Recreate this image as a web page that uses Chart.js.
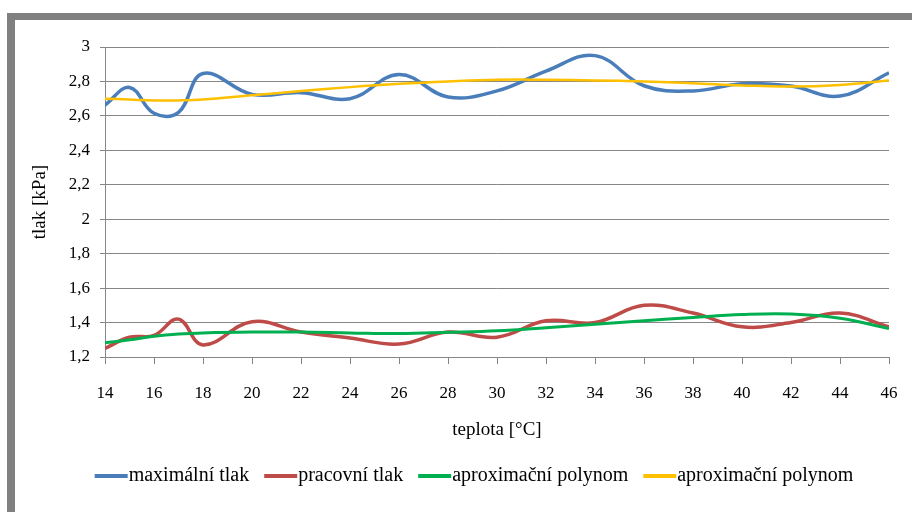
<!DOCTYPE html>
<html>
<head>
<meta charset="utf-8">
<script src="https://cdn.jsdelivr.net/npm/chart.js@4/dist/chart.umd.min.js"></script>
<style>
  body { margin: 0; background: #fff; }
  canvas { display: block; }
</style>
</head>
<body>
<canvas id="c" width="912" height="512"></canvas>
<script>
// data
const teploty = [14, 15, 16, 17, 18, 20, 22, 24, 26, 28, 30, 32, 34, 36, 38, 40, 42, 44, 46];
const maxTlak = [2.663, 2.765, 2.615, 2.62, 2.846, 2.725, 2.735, 2.70, 2.84, 2.71, 2.745, 2.86, 2.95, 2.775, 2.745, 2.786, 2.773, 2.715, 2.85];
const pracTlak = [1.25, 1.315, 1.325, 1.42, 1.27, 1.405, 1.345, 1.31, 1.275, 1.345, 1.315, 1.41, 1.40, 1.50, 1.455, 1.375, 1.40, 1.455, 1.375];
const polyPrac = [1.283, 1.30, 1.32, 1.333, 1.34, 1.345, 1.345, 1.34, 1.336, 1.343, 1.352, 1.37, 1.39, 1.41, 1.43, 1.447, 1.45, 1.425, 1.365];
const polyMax = [2.70, 2.695, 2.69, 2.69, 2.695, 2.72, 2.744, 2.767, 2.786, 2.80, 2.81, 2.81, 2.806, 2.80, 2.79, 2.777, 2.77, 2.78, 2.806];
const yTicks = [1.2, 1.4, 1.6, 1.8, 2, 2.2, 2.4, 2.6, 2.8, 3];

const pts = arr => arr.map((v, i) => ({ x: teploty[i], y: v }));
const serif = "'Liberation Serif', 'Times New Roman', serif";
const tickFont = { family: serif, size: 17 };
const titleFont = { family: serif, size: 19 };
const gray = "#868686";

// gray frame at top/left
const frame = {
  id: "frame",
  beforeDraw(chart) {
    const ctx = chart.ctx;
    ctx.save();
    ctx.fillStyle = "#808080";
    ctx.fillRect(7, 13, chart.width - 7, 7);
    ctx.fillRect(7, 13, 8, chart.height - 13);
    ctx.restore();
  }
};

// excel-like legend: short line then text right next to it
const lineLegend = {
  id: "lineLegend",
  afterDraw(chart) {
    const ctx = chart.ctx;
    const sets = chart.data.datasets;
    ctx.save();
    ctx.font = "20px " + serif;
    const widths = sets.map(d => 34 + ctx.measureText(d.label).width);
    const gap = 15;
    const total = widths.reduce((a, b) => a + b, 0) + gap * (sets.length - 1);
    let x = 474 - total / 2;
    const y = 476;
    sets.forEach((d, i) => {
      ctx.fillStyle = d.borderColor;
      ctx.fillRect(x, y - 2, 33, 4);
      ctx.fillStyle = "#000";
      ctx.textBaseline = "middle";
      ctx.fillText(d.label, x + 34, y);
      x += widths[i] + gap;
    });
    ctx.restore();
  }
};

function serie(label, data, color, width, order) {
  return {
    label: label,
    data: pts(data),
    borderColor: color,
    backgroundColor: color,
    borderWidth: width,
    pointRadius: 0,
    tension: 0.4,
    fill: false,
    order: order
  };
}

new Chart(document.getElementById("c"), {
  type: "line",
  data: {
    datasets: [
      serie("maximální tlak", maxTlak, "#4A7EBB", 3.5, 4),
      serie("pracovní tlak", pracTlak, "#BE4B48", 3.5, 3),
      serie("aproximační polynom", polyPrac, "#00B050", 3, 2),
      serie("aproximační polynom", polyMax, "#FFC000", 2.5, 1)
    ]
  },
  plugins: [frame, lineLegend],
  options: {
    responsive: false,
    animation: false,
    layout: { padding: { top: 47, right: 23, left: 0, bottom: 58.5 } },
    plugins: {
      tooltip: { enabled: false },
      legend: { display: false }
    },
    scales: {
      x: {
        type: "linear",
        min: 14,
        max: 46,
        afterFit: s => { s.height = 96.5; s.paddingLeft = 10; s.paddingRight = 10; },
        ticks: { stepSize: 2, font: tickFont, color: "#000", padding: 19, maxRotation: 0 },
        grid: { drawOnChartArea: false, drawTicks: true, tickLength: 7, color: gray },
        border: { color: gray, width: 1 },
        title: { display: true, text: "teplota [°C]", font: titleFont, color: "#000", padding: { top: 0, bottom: 12 } }
      },
      y: {
        min: 1.2,
        max: 3,
        afterFit: s => { s.width = 105; },
        afterBuildTicks: s => { s.ticks = yTicks.map(v => ({ value: v })); },
        ticks: {
          font: tickFont,
          color: "#000",
          padding: 10,
          callback: v => String(+v.toFixed(1)).replace(".", ",")
        },
        grid: { color: gray, lineWidth: 1, tickLength: 5 },
        border: { color: gray, width: 1 },
        title: { display: true, text: "tlak [kPa]", font: titleFont, color: "#000", padding: { top: 28.5, bottom: 0 } }
      }
    }
  }
});
</script>
</body>
</html>
